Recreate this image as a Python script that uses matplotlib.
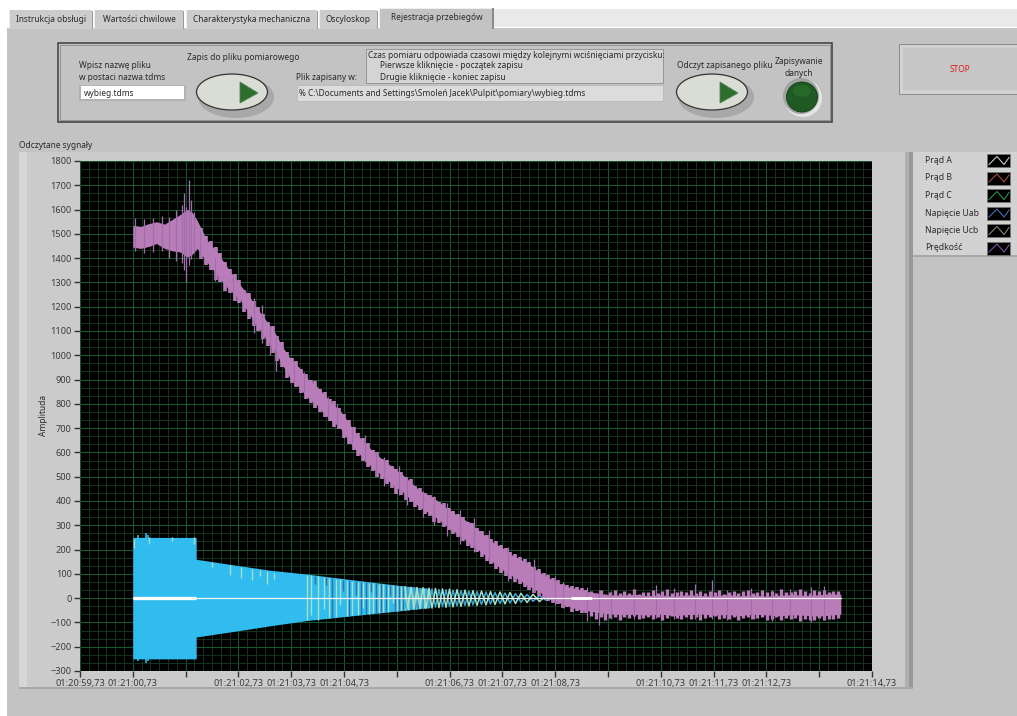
import matplotlib
matplotlib.use('Agg')
import matplotlib.pyplot as plt
from matplotlib.patches import Rectangle, Ellipse, Polygon
import numpy as np

plt.rcParams['font.family'] = ['Noto Sans', 'DejaVu Sans']

W, H = 1017, 716

# --- chart values, seconds after 01:20:59,73 ---
tick_labels = ['01:20:59,73', '01:21:00,73', '', '01:21:02,73', '01:21:03,73', '01:21:04,73', '',
               '01:21:06,73', '01:21:07,73', '01:21:08,73', '', '01:21:10,73', '01:21:11,73',
               '01:21:12,73', '', '01:21:14,73']
y_ticks = list(range(-300, 1801, 100))

# speed band (Predkosc), upper and lower edge
speed_t = [1.00, 1.15, 1.30, 1.45, 1.60, 1.75, 1.90, 2.03, 2.12, 2.22, 2.40, 2.60, 2.78, 3.03, 3.20, 3.35,
           3.50, 3.68, 3.82, 3.98, 4.15, 4.30, 4.45, 4.62, 4.78, 4.92, 5.08, 5.22, 5.35, 5.49, 5.65, 5.80,
           5.95, 6.10, 6.28, 6.42, 6.60, 6.76, 6.92, 7.08, 7.24, 7.40, 7.55, 7.70, 7.85, 8.01, 8.18, 8.34,
           8.50, 8.65, 8.80, 9.03, 9.20, 9.40, 9.60, 9.79, 10.00, 10.25, 10.50, 10.75, 11.00, 11.25, 11.50,
           11.75, 12.00, 12.25, 12.50, 12.75, 13.00, 13.25, 13.50, 13.75, 14.00, 14.20, 14.41]
speed_hi = [1535, 1530, 1542, 1550, 1540, 1560, 1580, 1600, 1590, 1555, 1475, 1425, 1365, 1290, 1245, 1195,
            1150, 1098, 1040, 988, 950, 905, 880, 840, 800, 774, 725, 680, 650, 617, 585, 560,
            535, 510, 475, 445, 425, 403, 375, 350, 330, 305, 280, 252, 225, 206, 178, 160,
            140, 115, 92, 66, 48, 40, 28, 20, 14, 12, 16, 10, 13, 8, 14, 11, 9, 15, 10, 13, 8, 12, 15, 11, 14, 18, 16]
speed_lo = [1445, 1440, 1448, 1460, 1440, 1430, 1425, 1405, 1415, 1440, 1385, 1330, 1280, 1230, 1172, 1122,
            1075, 1022, 965, 906, 868, 828, 805, 760, 728, 704, 650, 612, 578, 548, 518, 490,
            462, 440, 402, 378, 352, 329, 302, 275, 252, 222, 198, 172, 142, 115, 92, 72,
            50, 32, 12, -16, -28, -45, -52, -58, -64, -68, -66, -70, -66, -72, -68, -65, -70, -67, -72,
            -66, -69, -73, -68, -71, -74, -70, -66]

# short teeth along the band edges
teeth_t = [2.30, 2.39, 2.48, 2.57, 2.66, 2.75, 2.84, 2.93, 3.02, 3.11, 3.20, 3.29, 3.38, 3.47, 3.56, 3.65, 3.74, 3.83,
           3.92, 4.01, 4.10, 4.19, 4.28, 4.37, 4.46, 4.55, 4.64, 4.73, 4.82, 4.91, 5.00, 5.09, 5.18, 5.27, 5.36, 5.45,
           5.54, 5.63, 5.72, 5.81, 5.90, 5.99, 6.08, 6.17, 6.26, 6.35, 6.44, 6.53, 6.62, 6.71, 6.80, 6.89, 6.98, 7.07,
           7.16, 7.25, 7.34, 7.43, 7.52, 7.61, 7.70, 7.79, 7.88, 7.97, 8.06, 8.15, 8.24, 8.33, 8.42, 8.51, 8.60, 8.69,
           8.78, 8.87, 8.96, 9.05, 9.14, 9.23, 9.32, 9.41, 9.50, 9.59]
teeth_hi = [1525, 1490, 1470, 1445, 1420, 1385, 1355, 1335, 1310, 1270, 1255, 1225, 1200, 1170, 1135, 1120, 1080, 1055,
            1015, 990, 975, 945, 925, 900, 895, 860, 850, 820, 810, 785, 760, 735, 705, 680, 660, 640,
            610, 600, 575, 570, 545, 530, 520, 500, 490, 460, 455, 435, 425, 415, 395, 390, 370, 360,
            345, 335, 315, 310, 290, 275, 260, 245, 235, 220, 205, 190, 180, 170, 160, 150, 130, 120,
            105, 95, 85, 75, 60, 55, 50, 45, 40, 35]
teeth_lo = [1395, 1370, 1350, 1310, 1300, 1265, 1255, 1225, 1215, 1180, 1150, 1120, 1100, 1065, 1040, 1010, 975, 950,
            905, 885, 870, 845, 820, 805, 785, 765, 745, 730, 705, 695, 660, 635, 610, 585, 565, 540,
            525, 500, 490, 470, 455, 430, 425, 405, 395, 375, 365, 345, 340, 315, 310, 295, 280, 265,
            250, 235, 215, 205, 190, 170, 155, 140, 120, 105, 90, 80, 65, 60, 45, 35, 20, 10,
            0, -10, -22, -25, -40, -38, -55, -52, -62, -60]

# same teeth on the flat part after the stop
flat_t = [9.68, 9.77, 9.86, 9.95, 10.04, 10.13, 10.22, 10.31, 10.40, 10.49, 10.58, 10.67, 10.76, 10.85, 10.94, 11.03,
          11.12, 11.21, 11.30, 11.39, 11.48, 11.57, 11.66, 11.75, 11.84, 11.93, 12.02, 12.11, 12.20, 12.29, 12.38,
          12.47, 12.56, 12.65, 12.74, 12.83, 12.92, 13.01, 13.10, 13.19, 13.28, 13.37, 13.46, 13.55, 13.64, 13.73,
          13.82, 13.91, 14.00, 14.09, 14.18, 14.27, 14.36]
flat_hi = [28, 20, 32, 18, 25, 35, 20, 30, 22, 38, 18, 27, 24, 32, 22, 28, 36, 20, 26, 30, 24, 34, 20, 28, 22, 30, 26,
           35, 18, 25, 30, 22, 28, 34, 20, 26, 32, 24, 30, 22, 36, 26, 24, 30, 38, 28, 22, 32, 28, 35, 26, 30, 28]
flat_lo = [-72, -85, -78, -90, -80, -76, -88, -78, -82, -74, -86, -80, -76, -84, -78, -88, -82, -74, -80, -86, -78, -84,
           -76, -88, -82, -78, -74, -86, -80, -84, -76, -90, -82, -78, -86, -80, -76, -88, -84, -78, -92, -82, -86, -80,
           -94, -84, -90, -88, -82, -92, -86, -84, -80]

# thin noise spikes sticking out of the band
spike_t = [1.05, 1.22, 1.38, 1.55, 1.68, 1.82, 1.93, 1.97, 2.00, 2.06, 2.11, 2.15, 2.28, 2.55, 2.9, 3.3, 3.44, 3.6, 3.72,
           4.05, 4.25, 4.7, 4.86, 5.15, 5.4, 5.6, 5.75, 6.05, 6.2, 6.5, 6.7, 6.95, 7.2, 7.46, 7.75, 8.1, 8.6, 9.0, 9.15,
           9.6, 9.83, 10.05, 10.5, 10.9, 11.25, 11.65, 11.97, 12.25, 12.7, 13.1, 13.45, 13.85, 14.1]
spike_hi = [1565, 1560, 1565, 1575, 1570, 1600, 1620, 1670, 1610, 1720, 1640, 1590, 1510, 1400, 1325, 1235, 1205, 1120, 1080,
            960, 930, 830, 800, 700, 670, 600, 580, 545, 495, 440, 420, 390, 365, 330, 280, 210, 160, 90, 65,
            45, 35, 30, 35, 55, 40, 60, 75, 35, 40, 35, 38, 45, 50]
spike_lo = [1430, 1420, 1425, 1430, 1400, 1390, 1380, 1350, 1300, 1370, 1395, 1420, 1400, 1305, 1240, 1090, 1050, 1000, 935,
            880, 850, 745, 700, 640, 560, 505, 460, 425, 385, 335, 300, 255, 225, 190, 150, 70, 25, -30, -40,
            -95, -110, -85, -85, -80, -85, -85, -85, -90, -85, -95, -85, -100, -90]

# currents block
curr_t = [1.00, 2.20, 2.20, 3.00, 3.60, 4.30, 5.00, 5.60, 6.06, 6.63]
curr_hi = [250, 250, 160, 134, 115, 99, 80, 64, 52, 38]
curr_lo = [-250, -250, -160, -134, -114, -92, -76, -62, -52, -38]
curr_spike_t = [1.10, 1.25, 1.28]
curr_spike_hi = [258, 268, 260]
curr_spike_lo = [-258, -268, -260]

# pale and dark stripes inside the current block
pale_t = [1.02, 1.30, 1.75, 2.15, 2.50, 2.85, 3.05, 3.25, 3.40, 3.55, 3.68, 4.30, 4.38, 4.50, 4.62, 4.72, 4.85, 4.93, 5.05,
          5.16, 5.27, 5.36, 5.47, 5.55, 5.66, 5.74, 5.83, 5.92, 6.00, 6.08, 6.15, 6.22, 6.30, 6.37, 6.44, 6.52, 6.60]
pale_hi = [245, 250, 250, 250, 150, 135, 130, 120, 115, 110, 105, 97, 94, 90, 86, 84, 80, 78, 75,
           72, 68, 66, 64, 62, 60, 58, 56, 54, 52, 50, 48, 47, 45, 44, 42, 41, 40]
pale_lo = [205, 225, 235, 225, 130, 95, 85, 75, 90, 60, 80, -92, -70, -88, -45, -82, -78, -30, -74,
           -70, -68, -40, -64, -62, -60, -58, -56, -20, -52, -50, -48, -47, -45, -44, -42, -41, -40]
dark_t = [4.45, 4.66, 4.78, 4.98, 5.10, 5.22, 5.32, 5.42, 5.52, 5.60, 5.70, 5.79, 5.88, 5.96, 6.04, 6.12, 6.19, 6.26, 6.34, 6.41, 6.48, 6.56]
dark_hi = [92, 86, 82, 76, 74, 70, 67, 65, 63, 61, 59, 57, 55, 53, 51, 49, 47, 46, 44, 43, 41, 40]
dark_lo = [60, 55, -82, 30, -75, 15, -68, -64, 25, -61, -59, -57, 10, -53, -51, -49, -47, -46, -44, -43, -41, -40]

# slowly decaying current wave at the end, alternate peaks
wave_t = [6.155, 6.212, 6.269, 6.326, 6.383, 6.439, 6.496, 6.553, 6.610, 6.667, 6.733, 6.799, 6.866, 6.932, 6.998,
          7.064, 7.140, 7.216, 7.292, 7.367, 7.443, 7.519, 7.604, 7.689, 7.775, 7.860, 7.955, 8.049, 8.144, 8.248,
          8.352, 8.466, 8.580, 8.703, 8.826, 8.958, 9.091, 9.242, 9.394]
wave_pale = [46, -45, 45, -44, 44, -43, 43, -42, 41, -41, 40, -39, 38, -38, 37, -36, 35, -34, 33, -32, 31, -30, 29, -28,
             27, -26, 25, -24, 23, -22, 20, -18, 16, -14, 12, -10, 8, -5, 2]
wave_blue = [-40, 42, -42, 41, -41, 40, -40, 39, -38, 38, -37, 36, -35, 35, -34, 33, -32, 31, -30, 29, -28, 27, -26, 25,
             -24, 23, -22, 21, -20, 19, -17, 15, -13, 11, -9, 7, -5, 3, -1]

# legend names
legend_names = ['Prąd A', 'Prąd B', 'Prąd C', 'Napięcie Uab', 'Napięcie Ucb', 'Prędkość']
legend_cols = ['#c8c8c8', '#a84840', '#2c9048', '#4070b0', '#808870', '#7a50a8']

BG = '#c3c3c3'
TXT = '#2a2a2a'
FS = 6.0
TICK_FS = 6.6
BAND = '#b87db8'

fig = plt.figure(figsize=(W / 100, H / 100), dpi=100, facecolor='white')

# full figure axes in pixels for the LabVIEW panel stuff
ui = fig.add_axes([0, 0, 1, 1])
ui.set_xlim(0, W)
ui.set_ylim(H, 0)
ui.axis('off')


def box(x0, y0, x1, y1, fc, ec='none', lw=0, z=1):
    ui.add_patch(Rectangle((x0, y0), x1 - x0, y1 - y0, fc=fc, ec=ec, lw=lw, zorder=z))


def label(x, y, s, ha='left', color=TXT, fs=FS):
    ui.text(x, y, s, ha=ha, va='center', color=color, fontsize=fs, zorder=10)


box(7, 28, W, H, BG)
box(493, 9, W, 27, '#e9e9e9')

# tabs
tabs = [('Instrukcja obsługi', 10, 92), ('Wartości chwilowe', 95, 183), ('Charakterystyka mechaniczna', 187, 317),
        ('Oscyloskop', 320, 377)]
for name, x0, x1 in tabs:
    box(x0, 10, x1, 29, '#cccccc', z=2)
    box(x0 - 1, 10, x0, 29, '#ededed', z=2)
    box(x1, 11, x1 + 1, 29, '#9a9a9a', z=2)
    label((x0 + x1) / 2, 19, name, ha='center')
box(380, 8, 493, 29, BG, z=2)
box(379, 8, 380, 29, '#efefef', z=2)
box(380, 8, 493, 9, '#efefef', z=2)
box(492, 8, 494, 29, '#8a8a8a', z=2)
label(436.5, 18, 'Rejestracja przebiegów', ha='center')

# control panel frame
box(58, 43, 832, 122, 'none', ec='#3c3c3c', lw=1.1, z=3)
box(60, 45, 830, 120, 'none', ec='#8a8a8a', lw=0.6, z=3)
label(79, 66, 'Wpisz nazwę pliku')
label(79, 77, 'w postaci nazwa.tdms')
box(79, 85, 186, 101, '#b2b2b2', z=2)
box(81, 86, 184, 99, 'white', z=3)
label(84, 93, 'wybieg.tdms')
label(243, 57, 'Zapis do pliku pomiarowego', ha='center')
label(296, 77, 'Plik zapisany w:')
box(366, 49, 663, 83, '#d4d4d4', ec='#8e8e8e', lw=0.6, z=2)
label(368, 56, 'Czas pomiaru odpowiada czasowi między kolejnymi wciśnięciami przycisku:')
label(380, 66, 'Pierwsze kliknięcie - początek zapisu')
label(380, 77, 'Drugie kliknięcie - koniec zapisu')
box(297, 85, 663, 101, '#dcdcdc', ec='#b4b4b4', lw=0.5, z=2)
label(299, 93, '% C:\\Documents and Settings\\Smoleń Jacek\\Pulpit\\pomiary\\wybieg.tdms')


def oval_button(cx, cy):
    ui.add_patch(Ellipse((cx + 4, cy + 5), 76, 42, fc='#a8a8a8', ec='none', zorder=3))
    ui.add_patch(Ellipse((cx, cy), 71, 36, fc='#dadcd6', ec='#333333', lw=0.9, zorder=4))
    ui.add_patch(Polygon([(cx + 8, cy - 10), (cx + 8, cy + 11), (cx + 26, cy + 1)], fc='#2f6d2f', ec='#4a8a4a',
                         lw=0.6, zorder=5))


oval_button(232, 92)
oval_button(712, 92)
label(725, 65, 'Odczyt zapisanego pliku', ha='center')
label(799, 62, 'Zapisywanie', ha='center')
label(799, 73, 'danych', ha='center')
ui.add_patch(Ellipse((803, 98), 38, 38, fc='#e4e4e4', ec='none', zorder=3))
ui.add_patch(Ellipse((801, 96), 36, 36, fc='#a2a2a2', ec='none', zorder=3))
ui.add_patch(Ellipse((802, 97), 31, 30, fc='#1f5a22', ec='#123a14', lw=0.6, zorder=4))
ui.add_patch(Ellipse((802, 91), 18, 12, fc='#2a6e2c', ec='none', alpha=0.7, zorder=5))

# stop button
box(899, 44, W, 94, '#d2d2d2', ec='#8a8a8a', lw=0.7, z=2)
box(903, 48, W, 90, '#c6c6c6', z=2)
label(960, 69, 'STOP', ha='center', color='#e02020')

# graph frame
label(19, 145, 'Odczytane sygnały')
box(19, 152, 913, 688, '#cbcbcb', z=1)
box(19, 152, 27, 688, '#d6d6d6', z=1)
box(905, 152, 909, 688, '#b0b0b0', z=1)
box(909, 152, 913, 688, '#989898', z=1)
box(19, 687, 913, 689, '#a8a8a8', z=1)

# legend
box(913, 152, W, 256, '#d2d2d2', z=1)
box(913, 255, W, 257, '#a8a8a8', z=1)
for i, (name, col) in enumerate(zip(legend_names, legend_cols)):
    yc = 160.5 + i * 17.5
    label(925, yc, name, fs=FS + 0.2)
    box(987, yc - 6.5, 1010, yc + 6.5, 'black', ec='#777777', lw=0.5, z=2)
    ui.plot([989, 997, 1004, 1009], [yc + 4, yc - 4, yc + 4, yc - 3], color=col, lw=0.8, zorder=3)

ui.text(44, 415, 'Amplituda', rotation=90, ha='center', va='center', color=TXT, fontsize=FS, zorder=10)

# the graph itself
ax = fig.add_axes([80 / W, 1 - 671 / H, 792 / W, 510 / H], facecolor='black')
ax.set_xlim(0, 15)
ax.set_ylim(-300, 1800)
ax.set_xticks(range(16))
ax.set_xticklabels(tick_labels)
ax.set_yticks(y_ticks)
ax.set_xticks(np.arange(0, 90) / 6, minor=True)
ax.set_yticks(np.arange(-900, 5401, 100) / 3, minor=True)
ax.grid(which='minor', color='#15331d', lw=0.7)
ax.grid(which='major', color='#17552f', lw=0.8)
ax.set_axisbelow(True)
ax.tick_params(which='minor', length=0)
ax.tick_params(which='major', length=4, width=1, color='#333333', labelcolor='#3a3a3a', labelsize=TICK_FS, pad=2)
for s in ax.spines.values():
    s.set_visible(False)

ax.fill_between(curr_t, curr_lo, curr_hi, color='#30bcee', lw=0, zorder=3)
ax.vlines(curr_spike_t, curr_spike_lo, curr_spike_hi, color='#30bcee', lw=1.2, zorder=3)
ax.vlines(dark_t, dark_lo, dark_hi, color='#2b72ae', lw=1.0, zorder=4)
ax.vlines(pale_t, pale_lo, pale_hi, color='#a4e0c6', lw=1.0, zorder=4)
ax.plot(wave_t, wave_blue, color='#35a8d8', lw=1.1, zorder=5)
ax.plot(wave_t, wave_pale, color='#a4e0c6', lw=1.1, zorder=5)

ax.fill_between(speed_t, speed_lo, speed_hi, color=BAND, lw=0, zorder=6)
ax.vlines(teeth_t, teeth_lo, teeth_hi, color=BAND, lw=2.6, zorder=6)
ax.vlines(flat_t, flat_lo, flat_hi, color=BAND, lw=2.4, zorder=6)
ax.vlines(spike_t, spike_lo, spike_hi, color='#a06eaa', lw=0.9, zorder=6)

# white voltage trace over everything
ax.plot([1.0, 14.41], [0, 0], color='#f4f4f4', lw=0.9, zorder=7)
ax.plot([1.0, 2.2], [0, 0], color='white', lw=2.4, zorder=7, solid_capstyle='butt')
ax.plot([9.3, 9.7], [0, 0], color='white', lw=2.0, zorder=7, solid_capstyle='butt')

fig.savefig('out.png', dpi=100, facecolor='white')
